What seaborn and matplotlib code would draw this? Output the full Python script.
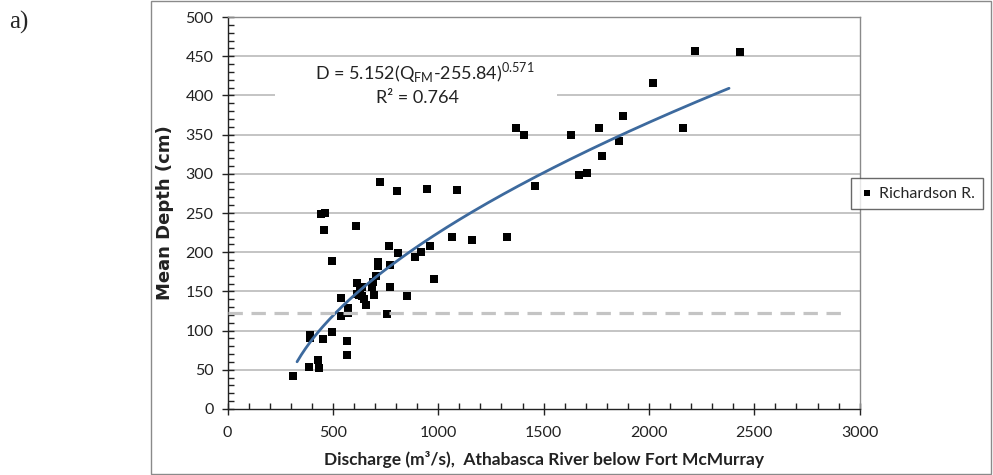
import numpy as np
import pandas as pd
import matplotlib
matplotlib.use("Agg")
import matplotlib.pyplot as plt
import seaborn as sns
from matplotlib.patches import Rectangle
from matplotlib.ticker import MultipleLocator

# ---- data ----
discharge = [311, 387, 392, 392, 428, 433, 451, 444, 462, 456, 494, 494, 540, 538,
             565, 565, 572, 573, 612, 615, 616, 625, 630, 637, 640, 648, 657, 684,
             690, 695, 703, 716, 716, 722, 757, 765, 771, 773, 806, 808, 854, 892,
             916, 948, 962, 980, 1066, 1088, 1158, 1328, 1369, 1409, 1460, 1631,
             1669, 1705, 1761, 1779, 1860, 1878, 2021, 2161, 2220, 2431]
depth = [41.5, 54, 95, 91, 63, 52, 89, 249, 250, 228, 189, 98, 141, 118,
         87, 69, 129, 122, 234, 161, 147, 145, 152, 144, 155, 140, 133, 156,
         162, 145, 170, 188, 183, 290, 121, 208, 156, 184, 278, 198.5, 144.5, 194,
         200, 280, 208, 166, 220, 279, 216, 219, 358, 350, 284, 349,
         298, 301, 359, 323, 342, 374, 416, 359, 456, 455]

# trendline given by the equation printed on the chart
fit_a, fit_q0, fit_b = 5.152, 255.84, 0.571
fit_range = [330, 2380]
threshold_depth = 122
threshold_range = [0, 2950]

series_name = "Richardson R."
eq_text = r"D = 5.152(Q$_\mathregular{FM}$-255.84)$^\mathregular{0.571}$"
r2_text = "R\u00b2 = 0.764"
xlabel = "Discharge (m\u00b3/s),  Athabasca River below Fort McMurray"
ylabel = "Mean Depth (cm)"

sns.set_style("white")
plt.rcParams["font.family"] = ["Lato", "DejaVu Sans"]
plt.rcParams["mathtext.fontset"] = "custom"
plt.rcParams["mathtext.rm"] = "Lato"

fig = plt.figure(figsize=(9.93, 4.75), dpi=100)
ax = fig.add_axes([227.5 / 993, 1 - 409 / 475, (859.7 - 227.5) / 993, (409 - 17) / 475])

# outer frame
fig.patches.append(Rectangle((151 / 993, 1 / 475), (991 - 151) / 993, 473 / 475,
                             transform=fig.transFigure, fill=False,
                             edgecolor="#8a8a8a", linewidth=1.0))
fig.text(9 / 993, 1 - 22 / 475, "a)", family="Liberation Serif", fontsize=18,
         va="center", ha="left")

df = pd.DataFrame({"Q": discharge, "D": depth})
qf = np.linspace(fit_range[0], fit_range[1], 200)
fit_df = pd.DataFrame({"Q": qf, "D": fit_a * (qf - fit_q0) ** fit_b})
thr_df = pd.DataFrame({"Q": threshold_range, "D": [threshold_depth] * 2})

ax.set_xlim(0, 3000)
ax.set_ylim(0, 500)
for yv in range(50, 501, 50):
    ax.axhline(yv, color="#bfbfbf", lw=1.3, zorder=0.5)

sns.scatterplot(data=df, x="Q", y="D", marker="s", s=30, color="black",
                linewidth=0, ax=ax, zorder=3, label=series_name)
sns.lineplot(data=fit_df, x="Q", y="D", color="#3d6a9e", lw=2, ax=ax,
             zorder=4, legend=False)
sns.lineplot(data=thr_df, x="Q", y="D", color="#c4c4c4", lw=2.3,
             ax=ax, zorder=5, legend=False, linestyle=(0, (4.5, 2.7)))

# equation box
ax.add_patch(Rectangle(((275 - 227.5) / 632.2, (409 - 112) / 392),
                       (557 - 275) / 632.2, (112 - 60) / 392,
                       transform=ax.transAxes, facecolor="white",
                       edgecolor="none", zorder=1))
ax.text((425 - 227.5) / 632.2, (409 - 73) / 392, eq_text, transform=ax.transAxes,
        ha="center", va="center", fontsize=13, zorder=6, color="#222222")
ax.text((417 - 227.5) / 632.2, (409 - 98) / 392, r2_text, transform=ax.transAxes,
        ha="center", va="center", fontsize=13, zorder=6, color="#222222")

# spines and ticks
for s in ["left", "bottom"]:
    ax.spines[s].set_color("#222222")
    ax.spines[s].set_linewidth(1.0)
for s in ["top", "right"]:
    ax.spines[s].set_color("#8a8a8a")
    ax.spines[s].set_linewidth(1.0)
    ax.spines[s].set_visible(True)

ax.xaxis.set_major_locator(MultipleLocator(500))
ax.xaxis.set_minor_locator(MultipleLocator(100))
ax.yaxis.set_major_locator(MultipleLocator(50))
ax.yaxis.set_minor_locator(MultipleLocator(10))
ax.tick_params(axis="both", which="major", direction="inout", length=8, width=1,
               color="#222222", labelsize=11.5, labelcolor="#222222", pad=6)
ax.tick_params(axis="both", which="minor", direction="in", length=4, width=1,
               color="#222222")
ax.tick_params(axis="x", which="major", pad=8)
ax.tick_params(left=True, bottom=True, which="both")

ax.set_xlabel(xlabel, fontsize=12.5, fontweight="bold", color="#222222", labelpad=8)
ax.set_ylabel(ylabel, fontsize=13, fontweight="bold", color="#222222", labelpad=8,
              family="DejaVu Sans")

leg = ax.legend(loc="center", bbox_to_anchor=(917 / 993, 1 - 193.5 / 475),
                bbox_transform=fig.transFigure, frameon=True, fancybox=False,
                edgecolor="#444444", fontsize=11.5, handletextpad=0.3,
                borderpad=0.5, handlelength=1.0, markerscale=0.75)
leg.get_frame().set_linewidth(1.0)
leg.set_zorder(10)

fig.savefig("out.png", dpi=100)
